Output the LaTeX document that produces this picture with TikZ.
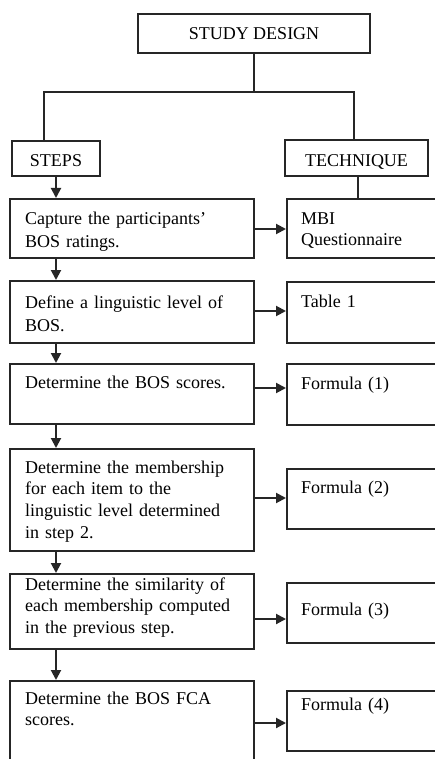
\documentclass[tikz,border=0pt]{standalone}
\usepackage{fontspec}
\setmainfont{Liberation Serif}
\usetikzlibrary{arrows.meta}
\begin{document}
\begin{tikzpicture}[x=1pt,y=-1pt,
  ln/.style={line width=2pt, draw=black!85},
  bx/.style={draw=black!85, line width=2pt, inner sep=0pt, anchor=north west},
  hd/.style={bx, font=\fontsize{18}{22}\selectfont},
  txt/.style={inner sep=0pt, anchor=base west, align=left, text width=228pt, font=\fontsize{18}{22}\selectfont},
  txtw/.style={txt, font=\fontsize{18}{23}\selectfont},
  arr/.style={ln, -{Triangle[length=10pt,width=10pt]}}]
\useasboundingbox (0,0) rectangle (435,759);
\fill[white] (0,0) rectangle (435,759);
\clip (0,0) rectangle (435,759);
% headers
\node[hd, minimum width=232pt, minimum height=39pt] (sd) at (137,13) {STUDY DESIGN};
\node[hd, minimum width=88pt, minimum height=35pt, text height=17pt, text depth=0pt] (steps) at (11,140) {STEPS};
\node[hd, minimum width=143pt, minimum height=36pt, text height=17pt, text depth=0pt] (tech) at (284,139) {TECHNIQUE};
% step boxes
\node[bx, minimum width=244pt, minimum height=59pt] (s1) at (9,198) {};
\node[bx, minimum width=244pt, minimum height=62pt] (s2) at (9,280) {};
\node[bx, minimum width=244pt, minimum height=60pt] (s3) at (9,363) {};
\node[bx, minimum width=244pt, minimum height=102pt] (s4) at (9,448) {};
\node[bx, minimum width=244pt, minimum height=75pt] (s5) at (9,573) {};
\node[bx, minimum width=244pt, minimum height=110pt] (s6) at (9,680) {};
% technique boxes
\node[bx, minimum width=180pt, minimum height=59pt] (f0) at (286,198) {};
\node[bx, minimum width=180pt, minimum height=61pt] (f1) at (286,281) {};
\node[bx, minimum width=180pt, minimum height=61pt] (f2) at (286,363) {};
\node[bx, minimum width=180pt, minimum height=60pt] (f3) at (286,468) {};
\node[bx, minimum width=180pt, minimum height=60pt] (f4) at (286,582) {};
\node[bx, minimum width=180pt, minimum height=60pt] (f5) at (286,690) {};
% texts
\node[txtw] (t1) at (25,225) {Capture the participants'\\BOS ratings.};
\node[txtw] (t2) at (25,308) {Define a linguistic level of\\BOS.};
\node[txt] (t3) at (25,388) {Determine the BOS scores.};
\node[txt, font=\fontsize{18}{21.8}\selectfont] (t4) at (25,473) {Determine the membership\\for each item to the\\linguistic level determined\\in step 2.};
\node[txt, font=\fontsize{18}{21.7}\selectfont] (t5) at (25,590) {Determine the similarity of\\each membership computed\\in the previous step.};
\node[txt, font=\fontsize{18}{21.7}\selectfont] (t6) at (25,704) {Determine the BOS FCA\\scores.};
\node[txt, text width=130pt, font=\fontsize{18}{21}\selectfont] (u0) at (301,224) {MBI\\Questionnaire};
\node[txt, text width=130pt] (u1) at (301,307) {Table 1};
\node[txt, text width=130pt] (u2) at (301,389) {Formula (1)};
\node[txt, text width=130pt] (u3) at (301,493) {Formula (2)};
\node[txt, text width=130pt] (u4) at (301,615) {Formula (3)};
\node[txt, text width=130pt] (u5) at (301,710) {Formula (4)};
% top connectors
\draw[ln] (sd.south) -- (sd.south |- 0,92) -| (steps.north -| 44,0);
\draw[ln] (sd.south |- 0,92) -| (tech.north -| 354,0);
\draw[ln] (tech.south -| 358,0) -- (f0.north -| 358,0);
% vertical arrows
\draw[arr] (steps.south -| 56,0) -- (s1.north -| 56,0);
\draw[arr] (s1.south -| 56,0) -- (s2.north -| 56,0);
\draw[arr] (s2.south -| 56,0) -- (s3.north -| 56,0);
\draw[arr] (s3.south -| 56,0) -- (s4.north -| 56,0);
\draw[arr] (s4.south -| 56,0) -- (s5.north -| 56,0);
\draw[arr] (s5.south -| 56,0) -- (s6.north -| 56,0);
% horizontal arrows
\draw[arr] (s1.east |- 0,229) -- (f0.west |- 0,229);
\draw[arr] (s2.east |- 0,311) -- (f1.west |- 0,311);
\draw[arr] (s3.east |- 0,388) -- (f2.west |- 0,388);
\draw[arr] (s4.east |- 0,498) -- (f3.west |- 0,498);
\draw[arr] (s5.east |- 0,619) -- (f4.west |- 0,619);
\draw[arr] (s6.east |- 0,723) -- (f5.west |- 0,723);
\end{tikzpicture}
\end{document}
